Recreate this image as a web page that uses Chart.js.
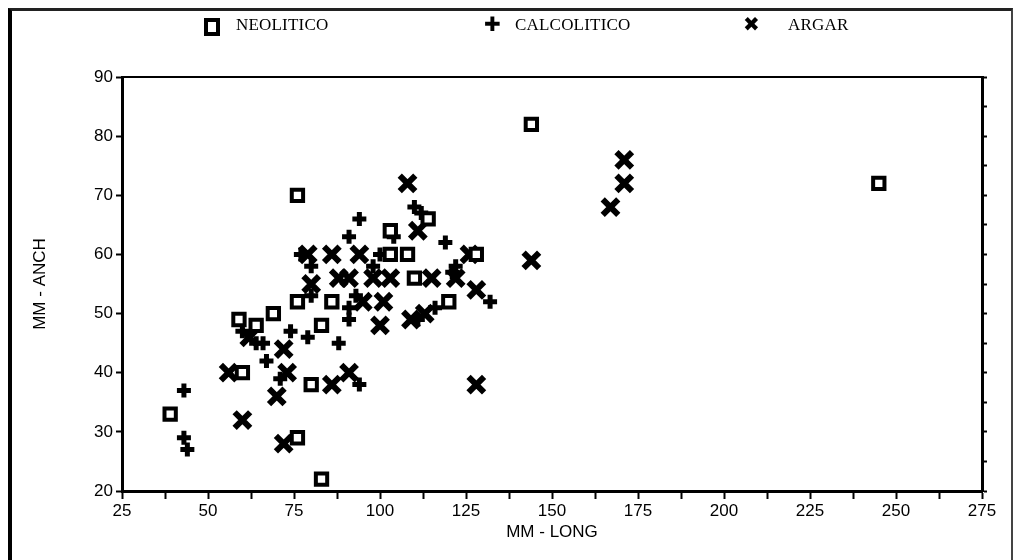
<!DOCTYPE html>
<html><head><meta charset="utf-8">
<script src="https://cdn.jsdelivr.net/npm/chart.js@4/dist/chart.umd.min.js"></script>
<style>
html,body{margin:0;padding:0;background:#fff;}
#wrap{position:relative;width:1018px;height:560px;overflow:hidden;background:#fff;}
#frame{position:absolute;left:8px;top:8px;width:1005px;height:560px;border-left:4px solid #000;border-top:3px solid #222;border-right:2px solid #444;box-sizing:border-box;pointer-events:none;}
#c{position:absolute;left:0;top:0;}
.lg{position:absolute;top:15px;font-family:"Liberation Serif",serif;font-size:17px;color:#000;line-height:20px;white-space:nowrap;letter-spacing:0.2px;}
.sq{position:absolute;top:18px;width:8px;height:10px;border:4px solid #000;}
.sym{position:absolute;top:12px;font-family:"DejaVu Sans",sans-serif;font-size:20px;line-height:24px;color:#000;}
</style></head>
<body>
<div id="wrap">
<canvas id="c" width="1018" height="560"></canvas>
<div id="frame"></div>
<div class="sq" style="left:204px"></div><div class="lg" style="left:236px">NEOLITICO</div>
<div class="sym" style="left:484px">&#10010;</div><div class="lg" style="left:515px">CALCOLITICO</div>
<div class="sym" style="left:743px">&#10006;</div><div class="lg" style="left:788px">ARGAR</div>
</div>
<script>
// Series values (MM - LONG, MM - ANCH)
const seriesNames = ['NEOLITICO','CALCOLITICO','ARGAR'];
const neoX = [39,60,59,64,69,76,76,76,83,80,83,86,103,103,108,110,114,120,128,144,245];
const neoY = [33,40,49,48,50,52,70,29,22,38,48,52,64,60,60,56,66,52,60,82,72];
const calX = [43,43,44,60,64,66,67,71,74,79,77,80,80,88,91,91,93,94,91,94,98,100,110,112,104,111,116,119,122,121,132];
const calY = [37,29,27,47,45,45,42,39,47,46,60,58,53,45,49,51,53,66,63,38,58,60,68,67,63,49,51,62,58,57,52];
const argX = [56,60,62,70,72,72,73,80,79,86,94,88,91,98,103,115,95,101,100,109,113,86,91,108,111,122,126,128,128,144,167,171,171];
const argY = [40,32,46,36,28,44,40,55,60,60,60,56,56,56,56,56,52,52,48,49,50,38,40,72,64,56,60,54,38,59,68,72,76];
// Axis tick labels
const xTickLabels = [25,50,75,100,125,150,175,200,225,250,275];
const yTickLabels = [20,30,40,50,60,70,80,90];
const xTitle = 'MM - LONG';
const yTitle = 'MM - ANCH';

const pts = (xs, ys) => xs.map((x, i) => ({x: x, y: ys[i]}));
const tickFont = {family: '"Liberation Sans", Arial, sans-serif', size: 17};
const titleFont = {family: '"Liberation Sans", Arial, sans-serif', size: 17};

new Chart(document.getElementById('c'), {
  type: 'scatter',
  data: {
    datasets: [
      {label: seriesNames[0], data: pts(neoX, neoY), pointStyle: 'rect', pointRadius: 8, borderWidth: 4, borderColor: '#000', backgroundColor: '#fff'},
      {label: seriesNames[1], data: pts(calX, calY), pointStyle: 'cross', pointRadius: 7, borderWidth: 5, borderColor: '#000', backgroundColor: '#000'},
      {label: seriesNames[2], data: pts(argX, argY), pointStyle: 'crossRot', pointRadius: 11, borderWidth: 6, borderColor: '#000', backgroundColor: '#000'}
    ]
  },
  options: {
    responsive: false,
    animation: false,
    events: [],
    layout: {padding: {left: 30, right: 31, top: 77, bottom: 17}},
    plugins: {legend: {display: false}, tooltip: {enabled: false}},
    scales: {
      x: {
        type: 'linear', position: 'bottom', min: 25, max: 275,
        ticks: {stepSize: 12.5, autoSkip: false, maxRotation: 0, color: '#000', font: tickFont, padding: 2,
          callback: v => xTickLabels.includes(v) ? String(v) : ''},
        grid: {drawOnChartArea: false, drawTicks: true, tickLength: 8, color: '#000', tickWidth: 2},
        border: {display: true, color: '#000', width: 3},
        title: {display: true, text: xTitle, color: '#000', font: titleFont, padding: {top: 0, bottom: 0}},
        afterFit: s => { s.height = 52; }
      },
      xTop: {
        type: 'linear', position: 'top', min: 25, max: 275,
        ticks: {display: false}, grid: {display: false, drawTicks: false},
        border: {display: true, color: '#000', width: 2},
        afterFit: s => { s.height = 0; }
      },
      y: {
        type: 'linear', position: 'left', min: 20, max: 90,
        ticks: {stepSize: 5, autoSkip: false, color: '#000', font: tickFont, padding: 3,
          callback: v => yTickLabels.includes(v) ? String(v) : ''},
        grid: {drawOnChartArea: false, drawTicks: true, tickLength: 6, tickWidth: 2,
          tickColor: c => (c.tick && yTickLabels.includes(c.tick.value)) ? '#000' : 'rgba(0,0,0,0)'},
        border: {display: true, color: '#000', width: 3},
        title: {display: true, text: yTitle, color: '#000', font: titleFont, padding: {top: 0, bottom: 0}},
        afterFit: s => { s.width = 92; }
      },
      yRight: {
        type: 'linear', position: 'right', min: 20, max: 90,
        ticks: {display: false, stepSize: 5},
        grid: {drawOnChartArea: false, drawTicks: true, tickLength: 5, tickWidth: 2, color: '#000'},
        border: {display: true, color: '#000', width: 3},
        afterFit: s => { s.width = 5; }
      }
    }
  }
});
</script>
</body></html>
